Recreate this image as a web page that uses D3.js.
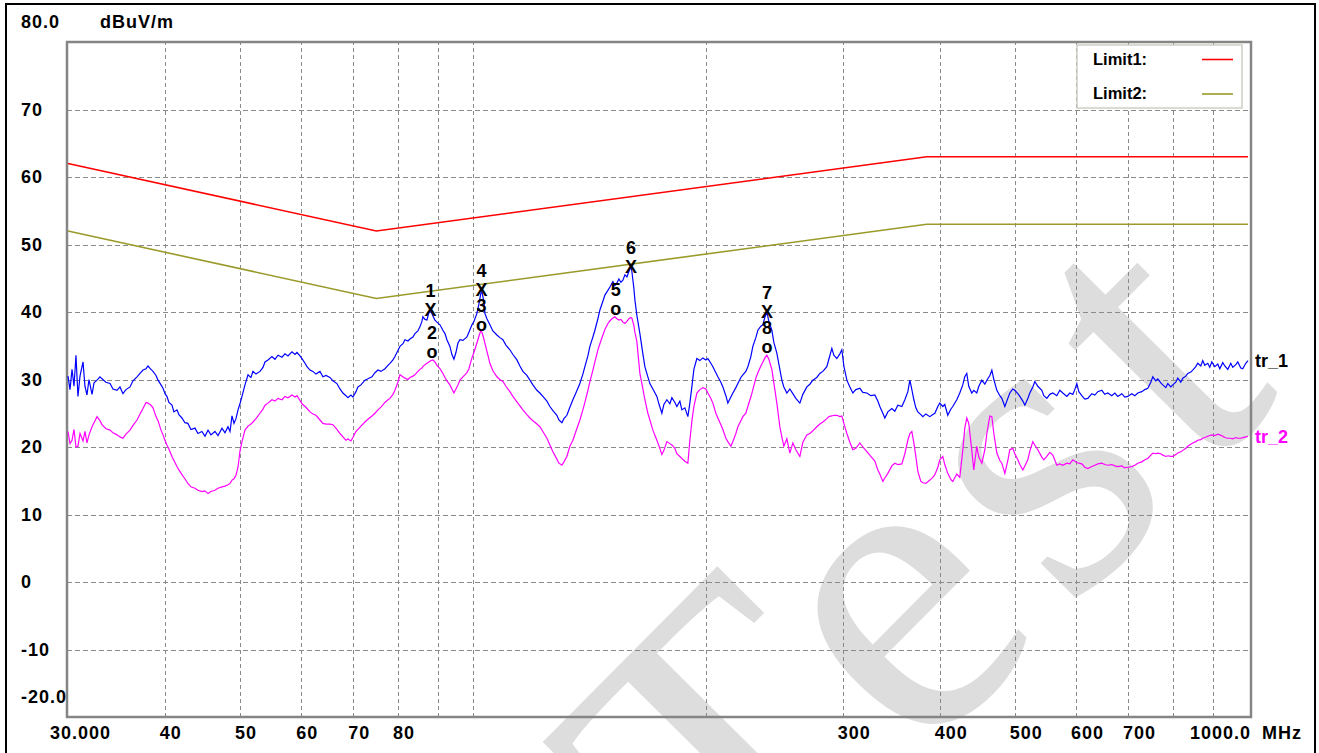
<!DOCTYPE html>
<html>
<head>
<meta charset="utf-8">
<script src="https://cdn.jsdelivr.net/npm/d3@7"></script>
<style>
  html, body { margin: 0; padding: 0; background: #fff; }
  svg { display: block; }
  .lbl { font-family: "Liberation Sans", Arial, sans-serif; font-weight: bold; font-size: 18px; fill: #000; }
  .axl { letter-spacing: 1px; }
  .lgd { font-size: 16.5px; }
</style>
</head>
<body>
<script>
// ---- sweep frequencies (MHz) shared by both traces ----
const freqMHz = [
  30.00, 30.18, 30.36, 30.54, 30.72, 30.90, 31.09, 31.37, 31.55, 31.74,
  31.93, 32.22, 32.41, 32.70, 32.99, 33.19, 33.58, 33.99, 34.29, 34.70,
  35.01, 35.32, 35.64, 36.07, 36.39, 36.83, 37.16, 37.49, 37.83, 38.05,
  38.39, 38.62, 38.97, 39.20, 39.55, 39.79, 40.02, 40.25, 40.49, 40.86,
  41.10, 41.47, 41.71, 42.09, 42.46, 42.84, 43.23, 43.75, 44.14, 44.66,
  45.07, 45.48, 45.88, 46.43, 46.85, 47.41, 47.83, 48.26, 48.55, 48.84,
  49.13, 49.42, 49.72, 50.01, 50.31, 50.76, 51.22, 51.67, 51.98, 52.45,
  53.07, 53.55, 53.87, 54.35, 55.00, 55.49, 55.99, 56.66, 57.17, 57.68,
  58.37, 58.89, 59.24, 59.77, 60.13, 60.67, 61.03, 61.57, 62.12, 62.68,
  63.43, 63.99, 64.57, 65.34, 65.92, 66.71, 67.31, 67.91, 68.52, 68.93,
  69.55, 69.96, 70.59, 71.01, 71.65, 72.50, 73.15, 74.03, 74.69, 75.36,
  76.03, 76.94, 77.63, 78.10, 78.79, 79.26, 79.97, 80.45, 81.17, 81.65,
  82.38, 82.87, 83.61, 84.11, 84.86, 85.37, 85.88, 86.13, 86.65, 87.17,
  87.68, 88.21, 88.73, 89.26, 89.80, 90.60, 91.41, 91.96, 92.50, 93.33,
  93.89, 94.45, 95.01, 95.58, 96.15, 97.01, 98.17, 98.75, 99.64, 100.23,
  101.12, 101.73, 102.33, 102.64, 103.25, 103.55, 104.17, 105.10, 106.04, 107.31,
  108.27, 109.24, 110.22, 111.54, 112.54, 113.89, 114.90, 115.93, 117.32, 118.37,
  119.43, 120.86, 121.94, 123.03, 124.50, 125.62, 126.74, 128.25, 129.02, 130.17,
  130.95, 132.12, 133.30, 134.50, 135.70, 137.32, 138.55, 139.38, 140.63, 141.47,
  142.74, 143.59, 144.88, 145.74, 147.05, 147.92, 149.25, 150.14, 151.48, 152.38,
  153.29, 154.21, 155.12, 156.05, 156.98, 157.92, 158.86, 159.80, 160.27, 161.23,
  161.71, 162.67, 164.13, 165.60, 166.58, 168.07, 169.08, 170.59, 172.63, 173.66,
  175.21, 176.26, 177.84, 179.42, 180.49, 182.11, 183.19, 184.83, 185.94, 187.60,
  189.28, 190.41, 191.54, 192.69, 194.41, 196.15, 197.91, 199.68, 200.87, 202.67,
  203.88, 205.70, 206.93, 208.78, 210.03, 211.91, 213.17, 215.08, 216.36, 218.30,
  219.60, 221.57, 222.88, 224.88, 226.22, 228.24, 229.60, 231.66, 233.04, 235.13,
  236.53, 237.94, 239.36, 240.78, 242.94, 244.39, 246.57, 248.78, 250.26, 251.76,
  254.01, 256.29, 258.58, 260.90, 264.01, 266.38, 269.56, 271.98, 274.41, 277.69,
  280.18, 282.68, 286.07, 287.78, 290.35, 292.08, 294.70, 297.34, 299.11, 300.89,
  303.59, 306.31, 309.05, 311.81, 315.54, 318.36, 322.17, 326.02, 329.92, 332.87,
  334.85, 337.85, 339.86, 342.91, 347.01, 350.12, 353.25, 357.50, 360.70, 363.93,
  366.10, 368.28, 370.47, 372.68, 374.90, 378.26, 380.51, 383.92, 388.51, 391.99,
  394.32, 397.86, 400.15, 403.73, 406.14, 409.77, 413.44, 415.90, 420.88, 424.64,
  428.45, 431.00, 433.57, 436.15, 440.05, 442.68, 446.64, 449.40, 453.43, 457.48,
  460.21, 464.33, 467.10, 469.88, 474.09, 478.33, 481.19, 485.50, 489.84, 492.76,
  497.17, 500.13, 504.60, 507.60, 512.15, 515.20, 519.81, 522.91, 527.59, 530.73,
  535.48, 541.89, 545.12, 550.00, 554.93, 559.89, 566.58, 571.66, 576.77, 583.67,
  588.90, 594.17, 597.71, 601.28, 604.86, 610.27, 615.74, 621.25, 628.68, 634.31,
  639.95, 647.60, 653.39, 659.24, 667.13, 673.10, 679.12, 687.25, 693.40, 699.60,
  707.97, 714.36, 720.75, 729.36, 735.90, 742.48, 749.14, 753.60, 760.34, 764.88,
  771.73, 776.33, 783.27, 787.95, 794.99, 799.68, 806.84, 811.66, 818.93, 823.80,
  831.18, 836.13, 843.61, 848.65, 856.25, 861.34, 869.06, 874.24, 879.46, 887.32,
  892.60, 897.95, 906.00, 914.11, 919.56, 927.80, 933.32, 941.68, 950.11, 955.77,
  964.33, 970.07, 978.75, 984.59, 993.41, 1000.00
];

// ---- tr_1 (blue) level, dBuV/m ----
const tr1Level = [
  30.5, 28.5, 31.5, 29.0, 33.6, 27.5, 30.5, 32.6, 29.0, 27.7,
  30.0, 27.8, 29.5, 29.9, 30.4, 30.1, 29.6, 29.4, 28.6, 28.4,
  28.9, 27.9, 28.5, 28.9, 29.8, 30.4, 30.9, 31.4, 31.6, 32.0,
  31.5, 31.2, 30.6, 29.9, 29.2, 28.7, 27.9, 27.5, 26.6, 26.2,
  25.2, 25.5, 24.8, 24.3, 23.6, 23.5, 22.6, 22.8, 22.0, 22.3,
  21.6, 22.5, 21.8, 22.3, 21.7, 22.8, 22.1, 23.0, 22.3, 24.6,
  23.5, 24.2, 25.5, 26.4, 27.5, 29.2, 30.7, 30.3, 31.2, 30.8,
  31.2, 31.8, 32.6, 32.9, 33.4, 33.0, 33.6, 33.3, 33.8, 33.5,
  34.1, 33.7, 34.0, 33.5, 33.1, 32.4, 31.9, 31.4, 31.2, 30.8,
  31.2, 30.4, 30.6, 30.3, 29.8, 29.4, 28.6, 28.0, 27.6, 27.3,
  27.7, 27.4, 28.2, 28.9, 29.2, 29.9, 30.1, 30.4, 31.0, 31.4,
  31.2, 31.6, 32.1, 32.4, 32.9, 33.4, 34.3, 34.9, 35.3, 35.9,
  35.7, 36.0, 36.3, 36.8, 37.2, 37.8, 38.6, 39.3, 38.9, 38.8,
  39.9, 40.1, 39.4, 38.8, 38.5, 38.1, 37.3, 36.8, 35.9, 34.9,
  33.7, 33.0, 34.0, 35.4, 35.9, 35.8, 36.3, 37.0, 38.1, 38.6,
  39.8, 41.2, 42.8, 43.0, 41.5, 39.8, 39.0, 38.1, 37.2, 36.6,
  36.2, 35.9, 35.1, 34.4, 33.7, 32.9, 32.0, 31.2, 30.6, 29.9,
  29.2, 28.4, 28.0, 27.5, 26.8, 26.0, 25.4, 24.7, 24.0, 23.6,
  24.2, 24.7, 25.9, 27.0, 28.0, 29.4, 30.8, 31.9, 33.5, 34.9,
  36.3, 37.3, 39.0, 40.3, 41.6, 42.5, 43.2, 43.7, 44.5, 43.9,
  44.3, 44.9, 44.4, 44.7, 45.5, 45.2, 46.0, 46.7, 46.0, 43.5,
  41.8, 39.5, 36.8, 33.8, 31.9, 30.4, 29.4, 28.6, 27.5, 26.4,
  25.0, 26.3, 27.0, 26.4, 27.3, 26.6, 26.0, 26.8, 25.5, 25.8,
  24.5, 26.5, 28.9, 31.5, 33.1, 32.8, 33.2, 32.9, 33.1, 32.4,
  31.9, 31.0, 30.4, 29.6, 28.9, 27.6, 26.5, 27.4, 28.0, 28.8,
  29.4, 30.3, 30.7, 31.2, 31.9, 33.4, 34.9, 36.2, 37.3, 37.9,
  38.1, 39.2, 40.0, 38.6, 37.3, 35.5, 33.9, 31.5, 29.9, 28.9,
  28.0, 28.6, 27.9, 27.2, 26.5, 27.8, 28.9, 29.3, 29.9, 30.3,
  30.9, 31.2, 31.9, 33.0, 34.6, 33.6, 33.1, 33.8, 34.4, 32.0,
  29.9, 28.9, 28.0, 28.5, 28.7, 28.1, 28.0, 27.6, 27.7, 26.8,
  26.0, 25.0, 24.3, 25.2, 25.7, 25.3, 26.2, 26.0, 27.0, 28.2,
  29.9, 28.5, 27.0, 25.8, 25.2, 24.8, 24.5, 24.9, 24.5, 24.8,
  25.0, 26.0, 26.5, 26.0, 26.3, 24.7, 25.6, 26.0, 27.0, 28.0,
  29.2, 30.4, 30.9, 29.0, 28.0, 28.4, 28.0, 29.0, 29.9, 29.3,
  29.9, 30.6, 31.4, 30.0, 28.4, 27.6, 27.2, 26.0, 27.2, 28.0,
  28.6, 28.4, 27.9, 27.5, 26.8, 26.2, 27.2, 28.0, 28.9, 29.7,
  29.0, 28.4, 27.6, 27.2, 27.8, 28.0, 27.6, 28.4, 28.0, 27.5,
  28.0, 27.8, 28.5, 29.4, 28.2, 27.6, 27.1, 27.2, 27.9, 27.7,
  28.2, 28.4, 27.8, 28.0, 27.6, 28.0, 27.5, 27.9, 27.4, 27.5,
  27.9, 27.6, 28.0, 28.2, 28.5, 28.7, 29.6, 30.4, 29.8, 30.1,
  29.5, 29.2, 28.8, 29.4, 28.9, 29.2, 29.6, 30.2, 29.6, 30.2,
  30.5, 30.9, 31.1, 31.4, 31.9, 32.4, 32.0, 32.8, 32.1, 32.4,
  31.8, 32.6, 31.9, 32.3, 31.6, 32.5, 32.0, 31.5, 32.4, 31.8,
  32.2, 32.6, 31.7, 31.6, 32.4, 32.8
];

// ---- tr_2 (magenta) level, dBuV/m ----
const tr2Level = [
  22.3, 20.5, 21.0, 22.6, 20.0, 20.1, 22.0, 20.9, 22.3, 20.6,
  21.8, 23.0, 23.6, 24.5, 23.9, 23.3, 22.7, 22.5, 22.1, 21.8,
  21.5, 21.3, 21.9, 22.5, 23.2, 24.0, 24.9, 25.7, 26.6, 26.5,
  26.2, 25.8, 24.5, 23.9, 22.5, 21.8, 21.0, 20.3, 19.7, 18.6,
  18.0, 17.1, 16.6, 15.9, 15.3, 14.6, 14.1, 13.9, 13.6, 13.4,
  13.5, 13.1, 13.4, 13.6, 13.9, 14.1, 14.2, 14.4, 14.6, 15.1,
  15.3, 15.8, 17.0, 19.4, 20.8, 22.5, 23.1, 23.4, 23.7, 24.2,
  25.0, 25.6, 26.2, 26.5, 27.0, 26.8, 27.2, 27.0, 27.5, 27.3,
  27.7, 27.4, 27.6, 26.9, 26.4, 26.0, 25.7, 25.2, 24.9, 24.7,
  24.0, 23.5, 23.4, 23.4, 23.3, 22.6, 22.0, 21.5, 21.0, 21.2,
  20.9, 21.4, 22.3, 22.6, 23.1, 23.7, 24.1, 24.6, 25.0, 25.5,
  25.9, 26.6, 27.0, 27.2, 27.8, 28.4, 29.6, 30.7, 30.4, 30.2,
  30.0, 30.3, 30.5, 30.7, 31.2, 31.5, 31.7, 31.9, 32.2, 32.4,
  32.6, 32.8, 32.9, 32.6, 32.1, 31.6, 30.9, 30.3, 29.8, 29.2,
  28.6, 28.0, 28.6, 29.2, 29.9, 30.4, 31.0, 31.6, 33.2, 34.0,
  35.4, 36.4, 37.3, 37.0, 36.0, 35.4, 34.2, 32.4, 31.3, 30.4,
  30.0, 29.7, 29.0, 28.2, 27.5, 26.7, 26.1, 25.5, 24.8, 24.3,
  23.9, 23.4, 23.0, 22.3, 21.3, 20.3, 19.3, 18.2, 17.6, 17.3,
  17.8, 18.6, 20.1, 21.0, 22.3, 24.0, 25.5, 26.6, 28.4, 29.7,
  31.4, 32.6, 34.4, 35.3, 36.6, 37.4, 38.3, 38.7, 39.1, 39.3,
  39.0, 38.8, 38.9, 38.5, 38.3, 38.6, 39.0, 39.2, 39.1, 38.0,
  37.0, 35.6, 30.9, 28.6, 27.0, 25.0, 24.0, 22.5, 21.0, 20.2,
  18.9, 19.5, 20.8, 20.5, 20.3, 19.8, 19.0, 18.6, 18.3, 17.9,
  17.6, 21.0, 23.8, 26.0, 28.0, 28.5, 28.8, 28.6, 28.0, 27.2,
  26.5, 25.0, 24.3, 23.3, 22.6, 21.3, 20.8, 20.1, 20.8, 22.0,
  23.0, 23.9, 24.5, 25.0, 26.0, 27.4, 28.5, 30.2, 31.0, 32.0,
  32.6, 33.2, 33.6, 33.0, 31.5, 29.5, 26.5, 23.0, 21.5, 20.1,
  21.2, 19.1, 20.6, 19.6, 18.6, 20.7, 21.8, 22.0, 22.4, 23.0,
  23.4, 23.7, 24.2, 24.5, 24.6, 24.7, 24.7, 24.5, 24.6, 23.5,
  22.0, 20.7, 19.6, 19.8, 20.6, 20.0, 19.3, 18.6, 17.9, 16.6,
  16.0, 14.9, 15.4, 16.1, 17.2, 17.6, 17.4, 17.5, 19.0, 21.0,
  22.0, 22.3, 20.6, 18.6, 16.4, 14.9, 14.7, 14.6, 15.1, 15.5,
  15.9, 17.0, 18.1, 18.6, 17.4, 16.1, 15.2, 14.9, 16.0, 15.5,
  19.5, 22.8, 24.3, 23.5, 19.5, 16.6, 20.1, 18.5, 17.6, 19.6,
  22.0, 24.6, 24.5, 22.0, 19.1, 18.0, 17.6, 16.1, 18.0, 19.6,
  19.8, 19.0, 18.1, 17.4, 16.6, 17.2, 18.1, 19.4, 20.8, 20.3,
  19.6, 18.5, 18.1, 18.6, 19.2, 18.8, 17.3, 17.5, 17.3, 17.6,
  17.5, 18.1, 17.9, 17.7, 17.6, 17.5, 17.0, 16.8, 17.1, 17.3,
  17.5, 17.6, 17.4, 17.3, 17.4, 17.2, 17.1, 17.2, 16.9, 17.0,
  17.1, 17.3, 17.6, 17.8, 18.1, 18.3, 18.8, 19.1, 19.0, 19.1,
  19.0, 18.8, 18.6, 18.7, 18.6, 18.6, 18.9, 19.1, 19.3, 19.5,
  19.8, 20.1, 20.4, 20.6, 20.8, 21.0, 21.1, 21.3, 21.4, 21.6,
  21.7, 21.8, 21.7, 21.9, 21.8, 21.6, 21.4, 21.3, 21.3, 21.2,
  21.4, 21.3, 21.3, 21.4, 21.5, 21.6
];

// ---- limit lines (corner points) ----
const limitMHz = [30, 75, 385, 1000];
const limit1Level = [62, 52, 63, 63];
const limit2Level = [52, 42, 53, 53];

// ---- markers ----
const markerNo = [1, 2, 3, 4, 5, 6, 7, 8];
const markerMHz = [88.1, 88.5, 102.5, 102.5, 152.8, 159.8, 239.5, 239.4];
const markerLevel = [40.3, 32.9, 36.9, 43.3, 39.4, 46.7, 40.0, 33.7];
const markerKind = ["X", "o", "o", "X", "o", "X", "X", "o"];

// ---- axes ----
const yTickValues = [80, 70, 60, 50, 40, 30, 20, 10, 0, -10, -20];
const yTickLabels = ["80.0", "70", "60", "50", "40", "30", "20", "10", "0", "-10", "-20.0"];
const xTickValues = [30, 40, 50, 60, 70, 80, 300, 400, 500, 600, 700, 1000];
const xTickLabels = ["30.000", "40", "50", "60", "70", "80", "300", "400", "500", "600", "700", "1000.0"];
const xGridMHz = [40, 50, 60, 70, 80, 90, 100, 200, 300, 400, 500, 600, 700, 800, 900];
const yGridLevel = [70, 60, 50, 40, 30, 20, 10, 0, -10];

const W = 1319, H = 753;
const box = { left: 67, top: 42, right: 1251, bottom: 717 };

const svg = d3.select("body").append("svg").attr("width", W).attr("height", H);
svg.append("rect").attr("width", W).attr("height", H).attr("fill", "#fff");

const x = d3.scaleLog().domain([30, 1000]).range([68, 1248]);
const y = d3.scaleLinear().domain([-20, 80]).range([box.bottom, box.top]);

// watermark
svg.append("text")
  .attr("transform", "translate(737,946) rotate(-45.2)")
  .attr("font-family", "Liberation Serif, serif")
  .attr("font-size", 430)
  .attr("letter-spacing", 22)
  .attr("fill", "#dddddd")
  .text("Test");

// outer black border
svg.append("rect")
  .attr("x", 6).attr("y", 4).attr("width", 1309).attr("height", 800)
  .attr("fill", "none").attr("stroke", "#000").attr("stroke-width", 2);

// grid via axes
const gridColor = "#8a8a8a";
const gx = svg.append("g").attr("transform", `translate(0,${box.bottom})`)
  .call(d3.axisBottom(x).tickValues(xGridMHz).tickSize(-(box.bottom - box.top)).tickFormat(""));
gx.select(".domain").remove();
gx.selectAll("line").attr("stroke", gridColor).attr("stroke-dasharray", "4,3").attr("shape-rendering", "crispEdges");

const gy = svg.append("g").attr("transform", `translate(${box.left},0)`)
  .call(d3.axisLeft(y).tickValues(yGridLevel).tickSize(-(box.right - box.left)).tickFormat(""));
gy.select(".domain").remove();
gy.selectAll("line").attr("stroke", gridColor).attr("stroke-dasharray", "5,3").attr("shape-rendering", "crispEdges");

// plot frame
svg.append("rect")
  .attr("x", box.left).attr("y", box.top)
  .attr("width", box.right - box.left).attr("height", box.bottom - box.top)
  .attr("fill", "none").attr("stroke", "#858585").attr("stroke-width", 2.5);

// y labels
svg.append("g").selectAll("text").data(yTickValues).join("text")
  .attr("class", "lbl axl")
  .attr("x", 21)
  .attr("y", (v) => y(v) - (v === 80 || v === -20 ? 20 : 0))
  .attr("dy", "0.36em")
  .text((v, i) => yTickLabels[i]);
svg.append("text").attr("class", "lbl axl").attr("x", 100).attr("y", 22).attr("dy", "0.36em").text("dBuV/m");

// x labels
svg.append("g").selectAll("text").data(xTickValues).join("text")
  .attr("class", "lbl axl")
  .attr("x", (v, i) => i === 0 ? x(v) - 18 : (i === xTickValues.length - 1 ? x(v) + 3 : x(v) - 5))
  .attr("text-anchor", (v, i) => i === xTickValues.length - 1 ? "end" : "start")
  .attr("y", 733).attr("dy", "0.36em")
  .text((v, i) => xTickLabels[i]);
svg.append("text").attr("class", "lbl axl").attr("x", 1262).attr("y", 733).attr("dy", "0.36em").text("MHz");

// limit lines
const limLine = d3.line().x((d) => x(d[0])).y((d) => y(d[1]));
svg.append("path").datum(limitMHz.map((f, i) => [f, limit1Level[i]]))
  .attr("d", limLine).attr("fill", "none").attr("stroke", "#ff0000").attr("stroke-width", 1.6);
svg.append("path").datum(limitMHz.map((f, i) => [f, limit2Level[i]]))
  .attr("d", limLine).attr("fill", "none").attr("stroke", "#9a9a2a").attr("stroke-width", 1.6);

// traces
const traceLine = d3.line().x((d) => x(d[0])).y((d) => y(d[1]));
svg.append("path").datum(freqMHz.map((f, i) => [f, tr2Level[i]]))
  .attr("d", traceLine).attr("fill", "none").attr("stroke", "#ff00ff").attr("stroke-width", 1.2);
svg.append("path").datum(freqMHz.map((f, i) => [f, tr1Level[i]]))
  .attr("d", traceLine).attr("fill", "none").attr("stroke", "#0000ff").attr("stroke-width", 1.2);

// trace labels at the last sweep point
const last = freqMHz.length - 1;
svg.append("text").attr("class", "lbl").attr("x", 1255).attr("y", y(tr1Level[last])).attr("dy", "0.36em").text("tr_1");
svg.append("text").attr("class", "lbl").attr("x", 1255).attr("y", y(tr2Level[last])).attr("dy", "0.36em")
  .style("fill", "#ff00ff").text("tr_2");

// legend
const lg = svg.append("g");
lg.append("rect").attr("x", 1077).attr("y", 45).attr("width", 165).attr("height", 63)
  .attr("fill", "#fff").attr("stroke", "#d0cdc6").attr("stroke-width", 1.5);
lg.append("text").attr("class", "lbl lgd").attr("x", 1093).attr("y", 59).attr("dy", "0.36em").text("Limit1:");
lg.append("text").attr("class", "lbl lgd").attr("x", 1093).attr("y", 93).attr("dy", "0.36em").text("Limit2:");
lg.append("line").attr("x1", 1202).attr("x2", 1233).attr("y1", 59.5).attr("y2", 59.5).attr("stroke", "#ff0000").attr("stroke-width", 1.6);
lg.append("line").attr("x1", 1202).attr("x2", 1233).attr("y1", 94).attr("y2", 94).attr("stroke", "#9a9a2a").attr("stroke-width", 1.6);

// markers
const mk = svg.append("g").selectAll("g").data(markerNo).join("g")
  .attr("transform", (n, i) => {
    const gyc = y(markerLevel[i]) - (markerKind[i] === "o" ? 8 : 0);
    return `translate(${x(markerMHz[i])},${gyc})`;
  });
mk.append("text").attr("class", "lbl").attr("text-anchor", "middle").attr("dy", "0.36em")
  .text((n, i) => markerKind[i]);
mk.append("text").attr("class", "lbl").attr("text-anchor", "middle").attr("y", -19).attr("dy", "0.36em")
  .text((n) => n);
</script>
</body>
</html>
